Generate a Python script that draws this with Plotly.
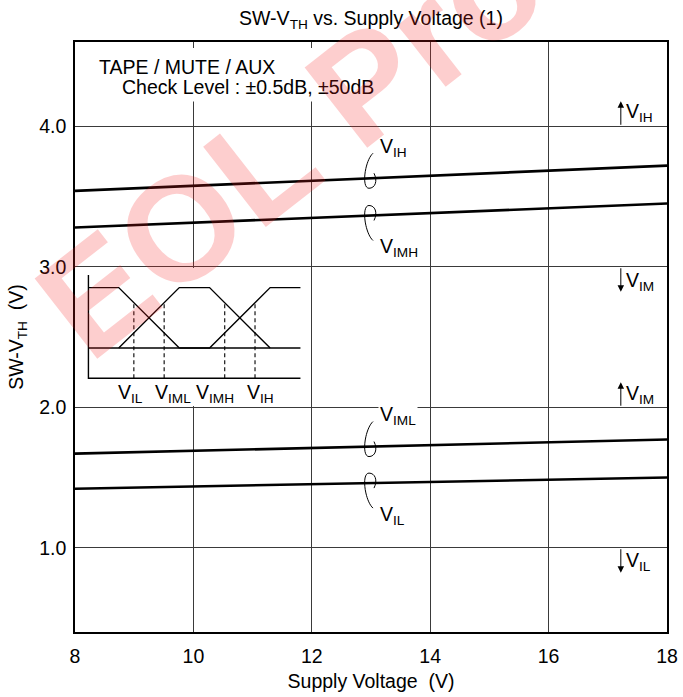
import numpy as np
import plotly.graph_objects as go

# ---- data -------------------------------------------------------------
supply_v = [8, 18]                 # supply voltage (V)
v_ih = [3.54, 3.72]                # SW-VTH thresholds (V)
v_imh = [3.28, 3.45]
v_iml = [1.67, 1.77]
v_il = [1.42, 1.50]

x_ticks = [8, 10, 12, 14, 16, 18]
y_ticks = [1.0, 2.0, 3.0, 4.0]

# schematic of the switching characteristics (arbitrary units)
schem_frame_x = [0, 0, 7]
schem_frame_y = [3.42, 0, 0]
schem_base_x = [0, 7]
schem_base_y = [1, 1]
schem_curves = [
    ([0, 1, 3], [3, 3, 1]),
    ([1, 3, 4, 6], [1, 3, 3, 1]),
    ([3, 4, 6, 7], [1, 1, 3, 3]),
]
schem_marks = [(1.5, 0), (2.5, 1), (4.5, 1), (5.5, 2)]   # (x, curve index)
schem_labels = ["V<sub>IL</sub>", "V<sub>IML</sub>", "V<sub>IMH</sub>", "V<sub>IH</sub>"]
schem_label_x = [1.39, 2.80, 4.18, 5.67]

FONT = "Liberation Sans, Arial, Helvetica, sans-serif"
FS = 19.5

fig = go.Figure()

# threshold lines
for ys in (v_ih, v_imh, v_iml, v_il):
    fig.add_trace(go.Scatter(x=supply_v, y=ys, mode="lines",
                             line=dict(color="black", width=2.6),
                             hoverinfo="skip", showlegend=False))

# schematic inset
fig.add_trace(go.Scatter(x=schem_frame_x, y=schem_frame_y, mode="lines",
                         line=dict(color="black", width=1.4),
                         xaxis="x2", yaxis="y2", showlegend=False, hoverinfo="skip"))
fig.add_trace(go.Scatter(x=schem_base_x, y=schem_base_y, mode="lines",
                         line=dict(color="black", width=1.4),
                         xaxis="x2", yaxis="y2", showlegend=False, hoverinfo="skip"))
for cx, cy in schem_curves:
    fig.add_trace(go.Scatter(x=cx, y=cy, mode="lines",
                             line=dict(color="black", width=1.4),
                             xaxis="x2", yaxis="y2", showlegend=False, hoverinfo="skip"))
for mx, ci in schem_marks:
    cx, cy = schem_curves[ci]
    top = float(np.interp(mx, cx, cy))
    fig.add_trace(go.Scatter(x=[mx, mx], y=[0, top], mode="lines",
                             line=dict(color="black", width=1.1, dash="4px,3px"),
                             xaxis="x2", yaxis="y2", showlegend=False, hoverinfo="skip"))

annotations = []
shapes = []

# white panel behind the condition note (hides the grid there)
shapes.append(dict(type="rect", xref="paper", yref="paper", layer="above",
                   x0=0.0304, x1=0.535, y0=0.899, y1=0.99,
                   fillcolor="white", line=dict(width=0)))

# curve labels with looped leaders
loop_above = "M 2,25 C -6,18 -10,-10 -2,-10 C 4,-10 7,-3 3,5"
loop_below = "M 2,-25 C -6,-18 -10,10 -2,10 C 4,10 7,3 3,-5"
label_x = 13
for ys, name, above in ((v_ih, "IH", True), (v_imh, "IMH", False),
                        (v_iml, "IML", True), (v_il, "IL", False)):
    yv = float(np.interp(label_x, supply_v, ys))
    shapes.append(dict(type="path", xref="x", yref="y",
                       xsizemode="pixel", ysizemode="pixel",
                       xanchor=label_x, yanchor=yv,
                       path=loop_above if above else loop_below,
                       line=dict(color="black", width=1)))
    annotations.append(dict(x=label_x, y=yv, xref="x", yref="y",
                            text=f"V<sub>{name}</sub>", showarrow=False,
                            xanchor="left", yanchor="middle",
                            xshift=7, yshift=31 if above else -32,
                            bgcolor="white", borderpad=1,
                            font=dict(family=FONT, size=FS, color="black")))

# range markers on the right
arrow_x = 17.22
for level, name, up, dy in ((4.0, "IH", True, 14), (3.0, "IM", False, -15),
                            (2.0, "IM", True, 13), (1.0, "IL", False, -14)):
    annotations.append(dict(x=arrow_x, y=level, xref="x", yref="y", text="",
                            showarrow=True, ax=0, ay=25 if up else -25,
                            yshift=25 if up else -25,
                            arrowhead=2, arrowsize=1.3, arrowwidth=1,
                            arrowcolor="black", standoff=0, startstandoff=0))
    annotations.append(dict(x=arrow_x, y=level, xref="x", yref="y",
                            text=f"V<sub>{name}</sub>", showarrow=False,
                            xanchor="left", yanchor="middle", xshift=3, yshift=dy,
                            font=dict(family=FONT, size=FS, color="black")))

# condition note
annotations.append(dict(x=0.037, y=(632 - 66.7) / 590, xref="paper", yref="paper",
                        xanchor="left", yanchor="middle",
                        text="TAPE / MUTE / AUX", showarrow=False,
                        font=dict(family=FONT, size=FS, color="black")))
annotations.append(dict(x=0.076, y=(632 - 87.3) / 590, xref="paper", yref="paper",
                        xanchor="left", yanchor="middle",
                        text="Check Level : \u00b10.5dB, \u00b150dB", showarrow=False,
                        font=dict(family=FONT, size=FS, color="black")))

# schematic labels
for lx, txt in zip(schem_label_x, schem_labels):
    annotations.append(dict(x=lx, y=-0.5, xref="x2", yref="y2", text=txt,
                            showarrow=False, xanchor="center", yanchor="middle",
                            font=dict(family=FONT, size=FS, color="black")))

# watermark
annotations.append(dict(x=0.571, y=0.993, xref="paper", yref="paper",
                        text="<b>EOL Product</b>", showarrow=False,
                        textangle=-38, xanchor="center", yanchor="middle",
                        font=dict(family=FONT, size=148, color="rgba(245,30,30,0.22)")))

fig.update_layout(
    width=683, height=697,
    margin=dict(l=75, r=16, t=42, b=65),
    paper_bgcolor="white", plot_bgcolor="white",
    font=dict(family=FONT, size=FS, color="black"),
    title=dict(text="SW-V<sub>TH</sub> vs. Supply Voltage (1)",
               x=0.5, xref="paper", xanchor="center",
               y=1 - 18 / 697, yref="container", yanchor="middle",
               font=dict(family=FONT, size=FS, color="black")),
    xaxis=dict(range=[8, 18], tickvals=x_ticks, ticktext=[str(v) for v in x_ticks],
               showgrid=True, gridcolor="#3a3a3a", gridwidth=1,
               showline=True, mirror=True, linecolor="black", linewidth=1.6,
               ticks="", zeroline=False, fixedrange=True, ticklabelstandoff=6,
               automargin=False,
               title=dict(text="Supply Voltage  (V)", standoff=8,
                          font=dict(family=FONT, size=FS))),
    yaxis=dict(range=[0.4, 4.6], tickvals=y_ticks,
               ticktext=[f"{v:.1f}" for v in y_ticks],
               showgrid=True, gridcolor="#3a3a3a", gridwidth=1,
               showline=True, mirror=True, linecolor="black", linewidth=1.6,
               ticks="", zeroline=False, fixedrange=True, ticklabelstandoff=3,
               automargin=False,
               title=dict(text="SW-V<sub>TH</sub>  (V)", standoff=10,
                          font=dict(family=FONT, size=FS))),
    xaxis2=dict(domain=[0.0017, 0.3885], range=[-0.41, 7.15], anchor="y2",
                showgrid=False, zeroline=False, showline=False,
                showticklabels=False, ticks="", fixedrange=True),
    yaxis2=dict(domain=[0.383, 0.617], range=[-0.92, 3.65], anchor="x2",
                showgrid=False, zeroline=False, showline=False,
                showticklabels=False, ticks="", fixedrange=True),
    annotations=annotations,
    shapes=shapes,
    showlegend=False,
)

fig.write_html("out.html")
